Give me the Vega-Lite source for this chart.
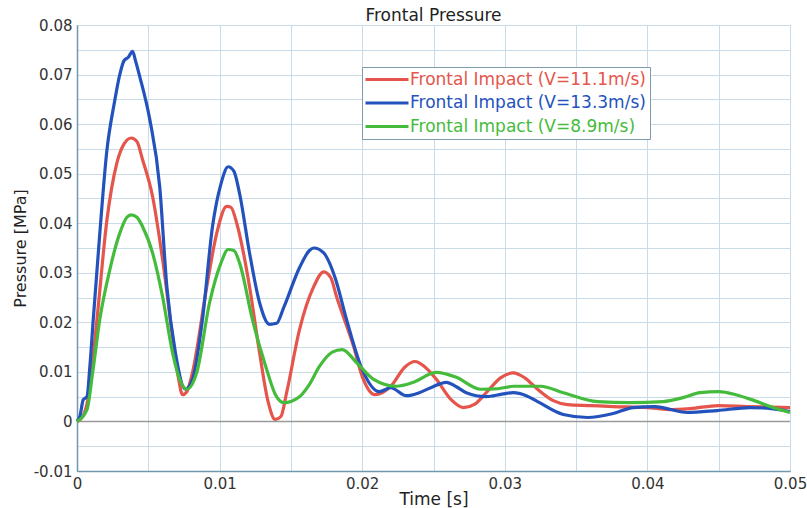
{
  "$schema": "https://vega.github.io/schema/vega-lite/v6.json",
  "autosize": "none",
  "width": 713,
  "height": 446,
  "padding": {"left": 77, "top": 25, "right": 17, "bottom": 37},
  "background": "white",
  "title": {"text": "Frontal Pressure", "fontSize": 17, "font": "DejaVu Sans", "fontWeight": "normal", "color": "#222", "offset": -7, "anchor": "middle"},
  "config": {
    "view": {"stroke": "#9bb3c2", "strokeWidth": 1},
    "axis": {
      "labelFont": "DejaVu Sans", "labelFontSize": 15, "labelColor": "#333",
      "titleFont": "DejaVu Sans", "titleFontSize": 17, "titleFontWeight": "normal", "titleColor": "#222",
      "gridColor": "#c9dbe6", "gridWidth": 1, "gridOpacity": 1, "grid": true,
      "domainColor": "#6f97ad", "domainWidth": 1.5, "ticks": false
    }
  },
  "data": {"values": [
    {"t":0,"p":0,"s":"Frontal Impact (V=11.1m/s)"},
    {"t":0.0004,"p":0.001,"s":"Frontal Impact (V=11.1m/s)"},
    {"t":0.0008,"p":0.005,"s":"Frontal Impact (V=11.1m/s)"},
    {"t":0.0014,"p":0.0206,"s":"Frontal Impact (V=11.1m/s)"},
    {"t":0.0021,"p":0.0407,"s":"Frontal Impact (V=11.1m/s)"},
    {"t":0.0028,"p":0.0522,"s":"Frontal Impact (V=11.1m/s)"},
    {"t":0.0033,"p":0.056,"s":"Frontal Impact (V=11.1m/s)"},
    {"t":0.0038,"p":0.0572,"s":"Frontal Impact (V=11.1m/s)"},
    {"t":0.0042,"p":0.0565,"s":"Frontal Impact (V=11.1m/s)"},
    {"t":0.0046,"p":0.0528,"s":"Frontal Impact (V=11.1m/s)"},
    {"t":0.0053,"p":0.0454,"s":"Frontal Impact (V=11.1m/s)"},
    {"t":0.006,"p":0.0327,"s":"Frontal Impact (V=11.1m/s)"},
    {"t":0.0067,"p":0.0171,"s":"Frontal Impact (V=11.1m/s)"},
    {"t":0.0071,"p":0.009,"s":"Frontal Impact (V=11.1m/s)"},
    {"t":0.0074,"p":0.0054,"s":"Frontal Impact (V=11.1m/s)"},
    {"t":0.0077,"p":0.006,"s":"Frontal Impact (V=11.1m/s)"},
    {"t":0.0081,"p":0.0099,"s":"Frontal Impact (V=11.1m/s)"},
    {"t":0.0091,"p":0.0272,"s":"Frontal Impact (V=11.1m/s)"},
    {"t":0.0098,"p":0.038,"s":"Frontal Impact (V=11.1m/s)"},
    {"t":0.0105,"p":0.0434,"s":"Frontal Impact (V=11.1m/s)"},
    {"t":0.0108,"p":0.0432,"s":"Frontal Impact (V=11.1m/s)"},
    {"t":0.0112,"p":0.04,"s":"Frontal Impact (V=11.1m/s)"},
    {"t":0.0121,"p":0.0272,"s":"Frontal Impact (V=11.1m/s)"},
    {"t":0.0128,"p":0.0139,"s":"Frontal Impact (V=11.1m/s)"},
    {"t":0.0134,"p":0.004,"s":"Frontal Impact (V=11.1m/s)"},
    {"t":0.0139,"p":0.0004,"s":"Frontal Impact (V=11.1m/s)"},
    {"t":0.0143,"p":0.001,"s":"Frontal Impact (V=11.1m/s)"},
    {"t":0.0147,"p":0.0058,"s":"Frontal Impact (V=11.1m/s)"},
    {"t":0.0156,"p":0.0185,"s":"Frontal Impact (V=11.1m/s)"},
    {"t":0.0166,"p":0.0272,"s":"Frontal Impact (V=11.1m/s)"},
    {"t":0.0173,"p":0.0302,"s":"Frontal Impact (V=11.1m/s)"},
    {"t":0.0178,"p":0.029,"s":"Frontal Impact (V=11.1m/s)"},
    {"t":0.0182,"p":0.0252,"s":"Frontal Impact (V=11.1m/s)"},
    {"t":0.0194,"p":0.0151,"s":"Frontal Impact (V=11.1m/s)"},
    {"t":0.02,"p":0.0091,"s":"Frontal Impact (V=11.1m/s)"},
    {"t":0.0209,"p":0.0054,"s":"Frontal Impact (V=11.1m/s)"},
    {"t":0.022,"p":0.0071,"s":"Frontal Impact (V=11.1m/s)"},
    {"t":0.023,"p":0.011,"s":"Frontal Impact (V=11.1m/s)"},
    {"t":0.0237,"p":0.0121,"s":"Frontal Impact (V=11.1m/s)"},
    {"t":0.0244,"p":0.011,"s":"Frontal Impact (V=11.1m/s)"},
    {"t":0.0252,"p":0.0085,"s":"Frontal Impact (V=11.1m/s)"},
    {"t":0.0262,"p":0.0045,"s":"Frontal Impact (V=11.1m/s)"},
    {"t":0.0271,"p":0.0028,"s":"Frontal Impact (V=11.1m/s)"},
    {"t":0.0279,"p":0.0035,"s":"Frontal Impact (V=11.1m/s)"},
    {"t":0.0287,"p":0.0058,"s":"Frontal Impact (V=11.1m/s)"},
    {"t":0.0297,"p":0.0088,"s":"Frontal Impact (V=11.1m/s)"},
    {"t":0.0306,"p":0.0098,"s":"Frontal Impact (V=11.1m/s)"},
    {"t":0.0314,"p":0.0088,"s":"Frontal Impact (V=11.1m/s)"},
    {"t":0.0323,"p":0.0065,"s":"Frontal Impact (V=11.1m/s)"},
    {"t":0.0334,"p":0.0042,"s":"Frontal Impact (V=11.1m/s)"},
    {"t":0.0344,"p":0.0034,"s":"Frontal Impact (V=11.1m/s)"},
    {"t":0.036,"p":0.0032,"s":"Frontal Impact (V=11.1m/s)"},
    {"t":0.0376,"p":0.003,"s":"Frontal Impact (V=11.1m/s)"},
    {"t":0.04,"p":0.0028,"s":"Frontal Impact (V=11.1m/s)"},
    {"t":0.0415,"p":0.0024,"s":"Frontal Impact (V=11.1m/s)"},
    {"t":0.043,"p":0.0026,"s":"Frontal Impact (V=11.1m/s)"},
    {"t":0.045,"p":0.0032,"s":"Frontal Impact (V=11.1m/s)"},
    {"t":0.047,"p":0.003,"s":"Frontal Impact (V=11.1m/s)"},
    {"t":0.05,"p":0.0028,"s":"Frontal Impact (V=11.1m/s)"},

    {"t":0,"p":0,"s":"Frontal Impact (V=13.3m/s)"},
    {"t":0.0002,"p":0.001,"s":"Frontal Impact (V=13.3m/s)"},
    {"t":0.00044,"p":0.0044,"s":"Frontal Impact (V=13.3m/s)"},
    {"t":0.0007,"p":0.005,"s":"Frontal Impact (V=13.3m/s)"},
    {"t":0.0009,"p":0.011,"s":"Frontal Impact (V=13.3m/s)"},
    {"t":0.00114,"p":0.0206,"s":"Frontal Impact (V=13.3m/s)"},
    {"t":0.0016,"p":0.038,"s":"Frontal Impact (V=13.3m/s)"},
    {"t":0.0021,"p":0.0548,"s":"Frontal Impact (V=13.3m/s)"},
    {"t":0.0026,"p":0.064,"s":"Frontal Impact (V=13.3m/s)"},
    {"t":0.003,"p":0.07,"s":"Frontal Impact (V=13.3m/s)"},
    {"t":0.0033,"p":0.0728,"s":"Frontal Impact (V=13.3m/s)"},
    {"t":0.0036,"p":0.0735,"s":"Frontal Impact (V=13.3m/s)"},
    {"t":0.0039,"p":0.0747,"s":"Frontal Impact (V=13.3m/s)"},
    {"t":0.0041,"p":0.0728,"s":"Frontal Impact (V=13.3m/s)"},
    {"t":0.0044,"p":0.0696,"s":"Frontal Impact (V=13.3m/s)"},
    {"t":0.0051,"p":0.061,"s":"Frontal Impact (V=13.3m/s)"},
    {"t":0.0058,"p":0.0474,"s":"Frontal Impact (V=13.3m/s)"},
    {"t":0.0063,"p":0.0272,"s":"Frontal Impact (V=13.3m/s)"},
    {"t":0.0069,"p":0.0139,"s":"Frontal Impact (V=13.3m/s)"},
    {"t":0.0076,"p":0.0065,"s":"Frontal Impact (V=13.3m/s)"},
    {"t":0.0081,"p":0.0085,"s":"Frontal Impact (V=13.3m/s)"},
    {"t":0.0088,"p":0.0206,"s":"Frontal Impact (V=13.3m/s)"},
    {"t":0.0095,"p":0.0393,"s":"Frontal Impact (V=13.3m/s)"},
    {"t":0.0101,"p":0.048,"s":"Frontal Impact (V=13.3m/s)"},
    {"t":0.0106,"p":0.0514,"s":"Frontal Impact (V=13.3m/s)"},
    {"t":0.011,"p":0.0505,"s":"Frontal Impact (V=13.3m/s)"},
    {"t":0.0114,"p":0.046,"s":"Frontal Impact (V=13.3m/s)"},
    {"t":0.0121,"p":0.034,"s":"Frontal Impact (V=13.3m/s)"},
    {"t":0.0128,"p":0.024,"s":"Frontal Impact (V=13.3m/s)"},
    {"t":0.0135,"p":0.0196,"s":"Frontal Impact (V=13.3m/s)"},
    {"t":0.014,"p":0.0198,"s":"Frontal Impact (V=13.3m/s)"},
    {"t":0.0145,"p":0.023,"s":"Frontal Impact (V=13.3m/s)"},
    {"t":0.0156,"p":0.031,"s":"Frontal Impact (V=13.3m/s)"},
    {"t":0.0163,"p":0.0345,"s":"Frontal Impact (V=13.3m/s)"},
    {"t":0.0166,"p":0.035,"s":"Frontal Impact (V=13.3m/s)"},
    {"t":0.0173,"p":0.034,"s":"Frontal Impact (V=13.3m/s)"},
    {"t":0.0181,"p":0.029,"s":"Frontal Impact (V=13.3m/s)"},
    {"t":0.0189,"p":0.0206,"s":"Frontal Impact (V=13.3m/s)"},
    {"t":0.02,"p":0.0105,"s":"Frontal Impact (V=13.3m/s)"},
    {"t":0.0212,"p":0.006,"s":"Frontal Impact (V=13.3m/s)"},
    {"t":0.022,"p":0.0068,"s":"Frontal Impact (V=13.3m/s)"},
    {"t":0.0231,"p":0.0052,"s":"Frontal Impact (V=13.3m/s)"},
    {"t":0.024,"p":0.0058,"s":"Frontal Impact (V=13.3m/s)"},
    {"t":0.0248,"p":0.0068,"s":"Frontal Impact (V=13.3m/s)"},
    {"t":0.0259,"p":0.0079,"s":"Frontal Impact (V=13.3m/s)"},
    {"t":0.0266,"p":0.007,"s":"Frontal Impact (V=13.3m/s)"},
    {"t":0.0273,"p":0.0058,"s":"Frontal Impact (V=13.3m/s)"},
    {"t":0.0287,"p":0.005,"s":"Frontal Impact (V=13.3m/s)"},
    {"t":0.0298,"p":0.0055,"s":"Frontal Impact (V=13.3m/s)"},
    {"t":0.0306,"p":0.0058,"s":"Frontal Impact (V=13.3m/s)"},
    {"t":0.0315,"p":0.0052,"s":"Frontal Impact (V=13.3m/s)"},
    {"t":0.0323,"p":0.004,"s":"Frontal Impact (V=13.3m/s)"},
    {"t":0.0341,"p":0.0014,"s":"Frontal Impact (V=13.3m/s)"},
    {"t":0.0358,"p":0.0008,"s":"Frontal Impact (V=13.3m/s)"},
    {"t":0.0376,"p":0.0016,"s":"Frontal Impact (V=13.3m/s)"},
    {"t":0.039,"p":0.0028,"s":"Frontal Impact (V=13.3m/s)"},
    {"t":0.0405,"p":0.003,"s":"Frontal Impact (V=13.3m/s)"},
    {"t":0.0428,"p":0.0018,"s":"Frontal Impact (V=13.3m/s)"},
    {"t":0.0449,"p":0.0022,"s":"Frontal Impact (V=13.3m/s)"},
    {"t":0.0472,"p":0.0028,"s":"Frontal Impact (V=13.3m/s)"},
    {"t":0.0487,"p":0.0026,"s":"Frontal Impact (V=13.3m/s)"},
    {"t":0.05,"p":0.002,"s":"Frontal Impact (V=13.3m/s)"},

    {"t":0,"p":0,"s":"Frontal Impact (V=8.9m/s)"},
    {"t":0.0007,"p":0.0024,"s":"Frontal Impact (V=8.9m/s)"},
    {"t":0.0011,"p":0.0099,"s":"Frontal Impact (V=8.9m/s)"},
    {"t":0.0016,"p":0.0206,"s":"Frontal Impact (V=8.9m/s)"},
    {"t":0.0023,"p":0.0306,"s":"Frontal Impact (V=8.9m/s)"},
    {"t":0.003,"p":0.038,"s":"Frontal Impact (V=8.9m/s)"},
    {"t":0.0035,"p":0.0412,"s":"Frontal Impact (V=8.9m/s)"},
    {"t":0.0038,"p":0.0417,"s":"Frontal Impact (V=8.9m/s)"},
    {"t":0.0042,"p":0.0412,"s":"Frontal Impact (V=8.9m/s)"},
    {"t":0.0046,"p":0.0393,"s":"Frontal Impact (V=8.9m/s)"},
    {"t":0.0053,"p":0.034,"s":"Frontal Impact (V=8.9m/s)"},
    {"t":0.006,"p":0.0252,"s":"Frontal Impact (V=8.9m/s)"},
    {"t":0.0067,"p":0.0139,"s":"Frontal Impact (V=8.9m/s)"},
    {"t":0.0072,"p":0.0085,"s":"Frontal Impact (V=8.9m/s)"},
    {"t":0.0077,"p":0.0065,"s":"Frontal Impact (V=8.9m/s)"},
    {"t":0.0084,"p":0.0099,"s":"Frontal Impact (V=8.9m/s)"},
    {"t":0.0093,"p":0.024,"s":"Frontal Impact (V=8.9m/s)"},
    {"t":0.0101,"p":0.032,"s":"Frontal Impact (V=8.9m/s)"},
    {"t":0.0106,"p":0.0347,"s":"Frontal Impact (V=8.9m/s)"},
    {"t":0.011,"p":0.0345,"s":"Frontal Impact (V=8.9m/s)"},
    {"t":0.0114,"p":0.032,"s":"Frontal Impact (V=8.9m/s)"},
    {"t":0.0123,"p":0.0206,"s":"Frontal Impact (V=8.9m/s)"},
    {"t":0.0133,"p":0.0105,"s":"Frontal Impact (V=8.9m/s)"},
    {"t":0.0139,"p":0.0055,"s":"Frontal Impact (V=8.9m/s)"},
    {"t":0.0145,"p":0.0038,"s":"Frontal Impact (V=8.9m/s)"},
    {"t":0.0156,"p":0.005,"s":"Frontal Impact (V=8.9m/s)"},
    {"t":0.0163,"p":0.0075,"s":"Frontal Impact (V=8.9m/s)"},
    {"t":0.017,"p":0.0111,"s":"Frontal Impact (V=8.9m/s)"},
    {"t":0.0179,"p":0.014,"s":"Frontal Impact (V=8.9m/s)"},
    {"t":0.0186,"p":0.0145,"s":"Frontal Impact (V=8.9m/s)"},
    {"t":0.0196,"p":0.0119,"s":"Frontal Impact (V=8.9m/s)"},
    {"t":0.0208,"p":0.0085,"s":"Frontal Impact (V=8.9m/s)"},
    {"t":0.0224,"p":0.0071,"s":"Frontal Impact (V=8.9m/s)"},
    {"t":0.0236,"p":0.0079,"s":"Frontal Impact (V=8.9m/s)"},
    {"t":0.0252,"p":0.0099,"s":"Frontal Impact (V=8.9m/s)"},
    {"t":0.0266,"p":0.0089,"s":"Frontal Impact (V=8.9m/s)"},
    {"t":0.0283,"p":0.0065,"s":"Frontal Impact (V=8.9m/s)"},
    {"t":0.0295,"p":0.0066,"s":"Frontal Impact (V=8.9m/s)"},
    {"t":0.0306,"p":0.0071,"s":"Frontal Impact (V=8.9m/s)"},
    {"t":0.0325,"p":0.0071,"s":"Frontal Impact (V=8.9m/s)"},
    {"t":0.0341,"p":0.0058,"s":"Frontal Impact (V=8.9m/s)"},
    {"t":0.0365,"p":0.004,"s":"Frontal Impact (V=8.9m/s)"},
    {"t":0.0388,"p":0.0038,"s":"Frontal Impact (V=8.9m/s)"},
    {"t":0.0411,"p":0.004,"s":"Frontal Impact (V=8.9m/s)"},
    {"t":0.0425,"p":0.0048,"s":"Frontal Impact (V=8.9m/s)"},
    {"t":0.0437,"p":0.0058,"s":"Frontal Impact (V=8.9m/s)"},
    {"t":0.045,"p":0.006,"s":"Frontal Impact (V=8.9m/s)"},
    {"t":0.0462,"p":0.0054,"s":"Frontal Impact (V=8.9m/s)"},
    {"t":0.0475,"p":0.0042,"s":"Frontal Impact (V=8.9m/s)"},
    {"t":0.0488,"p":0.0028,"s":"Frontal Impact (V=8.9m/s)"},
    {"t":0.05,"p":0.0018,"s":"Frontal Impact (V=8.9m/s)"}
  ]},
  "layer": [
    {
      "data": {"values": [{"z": 0}]},
      "mark": {"type": "rule", "color": "#9a9a9a", "strokeWidth": 1.5},
      "encoding": {"y": {"field": "z", "type": "quantitative",
          "scale": {"domain": [-0.01, 0.08], "nice": false, "zero": false},
          "axis": {"values": [-0.01,-0.005,0,0.005,0.01,0.015,0.02,0.025,0.03,0.035,0.04,0.045,0.05,0.055,0.06,0.065,0.07,0.075,0.08],
            "labelExpr": "round(datum.value*1000)%10===0 ? toString(round(datum.value*100)/100) : ''",
            "labelPadding": 5, "titlePadding": 5, "titleFontSize": 16, "labelFlush": false, "grid": true, "title": "Pressure [MPa]"}}}
    },
    {
      "mark": {"type": "line", "strokeWidth": 3.2, "interpolate": "monotone"},
      "encoding": {
        "x": {"field": "t", "type": "quantitative", "title": "Time [s]",
          "scale": {"domain": [0, 0.05], "nice": false, "zero": false},
          "axis": {"values": [0,0.005,0.01,0.015,0.02,0.025,0.03,0.035,0.04,0.045,0.05],
            "labelExpr": "round(datum.value*1000)%10===0 ? toString(round(datum.value*100)/100) : ''",
            "labelPadding": 5, "titlePadding": 0, "labelFlush": false, "grid": true}},
        "y": {"field": "p", "type": "quantitative", "title": "Pressure [MPa]",
          "scale": {"domain": [-0.01, 0.08], "nice": false, "zero": false},
          "axis": {"values": [-0.01,-0.005,0,0.005,0.01,0.015,0.02,0.025,0.03,0.035,0.04,0.045,0.05,0.055,0.06,0.065,0.07,0.075,0.08],
            "labelExpr": "round(datum.value*1000)%10===0 ? toString(round(datum.value*100)/100) : ''",
            "labelPadding": 5, "titlePadding": 5, "titleFontSize": 16, "labelFlush": false, "grid": true}},
        "color": {"field": "s", "type": "nominal",
          "scale": {"domain": ["Frontal Impact (V=11.1m/s)", "Frontal Impact (V=13.3m/s)", "Frontal Impact (V=8.9m/s)"],
            "range": ["#e5554b", "#2352bd", "#45bb3c"]},
          "legend": {"title": null, "orient": "none", "legendX": 285, "legendY": 42,
            "symbolType": "M-1.8,0H6.8", "symbolSize": 100, "symbolStrokeWidth": 3,
            "labelFont": "DejaVu Sans", "labelFontSize": 17, "labelLimit": 400, "labelOffset": 27,
            "labelColor": {"expr": "datum.value === 'Frontal Impact (V=11.1m/s)' ? '#e5554b' : datum.value === 'Frontal Impact (V=13.3m/s)' ? '#2352bd' : '#45bb3c'"},
            "strokeColor": "#7d9bad", "fillColor": "white", "padding": 4, "rowPadding": 5.5}
        }
      }
    }
  ]
}
